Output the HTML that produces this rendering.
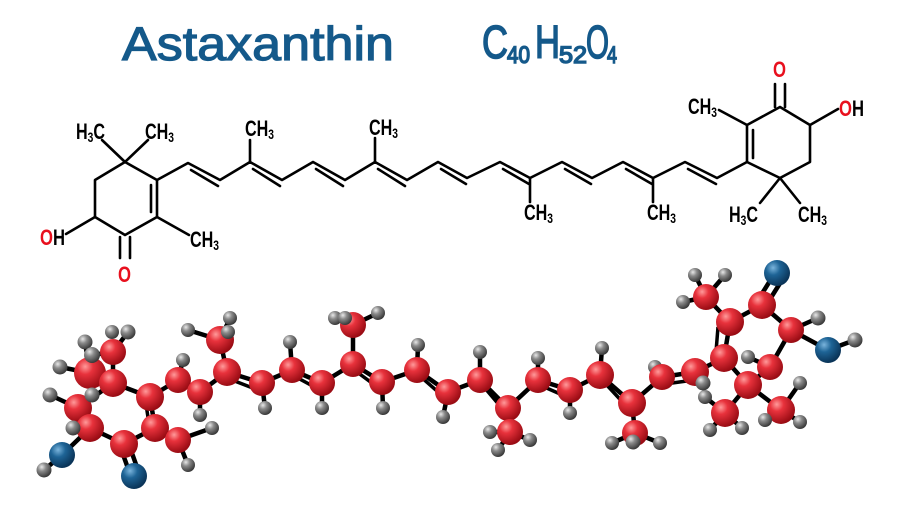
<!DOCTYPE html>
<html><head><meta charset="utf-8"><style>
html,body{margin:0;padding:0;background:#fff;}
svg{display:block;}
.t{font-family:"Liberation Sans",sans-serif;font-weight:bold;fill:#000;}
.r{fill:#e8101e;}
</style></head><body>
<svg width="900" height="510" viewBox="0 0 900 510" xmlns="http://www.w3.org/2000/svg">
<defs>
<radialGradient id="gr" cx="35%" cy="30%" r="70%"><stop offset="0" stop-color="#ff9a9a"/><stop offset="0.35" stop-color="#e8323c"/><stop offset="1" stop-color="#9a0c14"/></radialGradient>
<radialGradient id="gg" cx="35%" cy="30%" r="70%"><stop offset="0" stop-color="#e8e8e8"/><stop offset="0.4" stop-color="#8a8a8a"/><stop offset="1" stop-color="#3a3a3a"/></radialGradient>
<radialGradient id="gb" cx="35%" cy="30%" r="70%"><stop offset="0" stop-color="#7ab4dc"/><stop offset="0.4" stop-color="#1e6496"/><stop offset="1" stop-color="#0a3458"/></radialGradient>
</defs>

<!-- Title -->
<text x="122" y="60" font-family="Liberation Sans, sans-serif" font-size="47" fill="#14598a" stroke="#14598a" stroke-width="1.2" textLength="272" lengthAdjust="spacingAndGlyphs">Astaxanthin</text>
<g font-family="Liberation Sans, sans-serif" fill="#14598a" stroke="#14598a" stroke-width="1.5">
<text x="482" y="58" font-size="46" textLength="26" lengthAdjust="spacingAndGlyphs">C</text>
<text x="507" y="63" font-size="24" textLength="23" lengthAdjust="spacingAndGlyphs">40</text>
<text x="535" y="58" font-size="46" textLength="25" lengthAdjust="spacingAndGlyphs">H</text>
<text x="559" y="63" font-size="24" textLength="28" lengthAdjust="spacingAndGlyphs">52</text>
<text x="586" y="58" font-size="46" textLength="23" lengthAdjust="spacingAndGlyphs">O</text>
<text x="607" y="63" font-size="24" textLength="10" lengthAdjust="spacingAndGlyphs">4</text>
</g>

<!-- Skeletal formula -->
<g stroke="#000" stroke-width="2.6" fill="none" stroke-linecap="round" stroke-linejoin="round">
<polyline points="125,162 157,180 157,217 125,235 95,217 95,180 125,162"/>
<line x1="151" y1="185" x2="151" y2="212"/>
<line x1="125" y1="162" x2="102" y2="140"/>
<line x1="125" y1="162" x2="148" y2="140"/>
<line x1="157" y1="217" x2="189" y2="235"/>
<line x1="120" y1="237" x2="120" y2="258"/><line x1="130" y1="237" x2="130" y2="258"/>
<line x1="95" y1="217" x2="66" y2="234"/>
<polyline points="157,180 188,163 220,180 250,162 282,180 313,162 345,180 375,162 407,180 438,162 467,178 500,162 530,178 562,162 592,178 623,162 653,178 685,162 717,178 747,162"/>
<line x1="191" y1="170" x2="218" y2="186"/>
<line x1="253" y1="169" x2="280" y2="186"/>
<line x1="316" y1="169" x2="343" y2="186"/>
<line x1="378" y1="169" x2="405" y2="186"/>
<line x1="441" y1="169" x2="466" y2="184"/>
<line x1="503" y1="169" x2="529" y2="184"/>
<line x1="565" y1="169" x2="591" y2="184"/>
<line x1="626" y1="169" x2="652" y2="184"/>
<line x1="688" y1="169" x2="716" y2="184"/>
<line x1="250" y1="162" x2="250" y2="140"/>
<line x1="375" y1="162" x2="375" y2="138"/>
<line x1="530" y1="178" x2="530" y2="202"/>
<line x1="653" y1="178" x2="653" y2="202"/>
<polyline points="747,162 747,125 780,107 810,125 810,162 780,178 747,162"/>
<line x1="753" y1="130" x2="753" y2="158"/>
<line x1="775" y1="107" x2="775" y2="84"/><line x1="785" y1="107" x2="785" y2="84"/>
<line x1="810" y1="125" x2="838" y2="109"/>
<line x1="747" y1="125" x2="719" y2="110"/>
<line x1="780" y1="178" x2="760" y2="203"/>
<line x1="780" y1="178" x2="800" y2="203"/>
</g>
<g class="t" font-size="22">
<text x="76" y="139" textLength="29" lengthAdjust="spacingAndGlyphs">H<tspan font-size="14" dy="3">3</tspan><tspan dy="-3">C</tspan></text>
<text x="145" y="139" textLength="29" lengthAdjust="spacingAndGlyphs">CH<tspan font-size="14" dy="3">3</tspan></text>
<text x="245" y="136" textLength="29" lengthAdjust="spacingAndGlyphs">CH<tspan font-size="14" dy="3">3</tspan></text>
<text x="369" y="135" textLength="29" lengthAdjust="spacingAndGlyphs">CH<tspan font-size="14" dy="3">3</tspan></text>
<text x="190" y="247" textLength="29" lengthAdjust="spacingAndGlyphs">CH<tspan font-size="14" dy="3">3</tspan></text>
<text x="524" y="220" textLength="29" lengthAdjust="spacingAndGlyphs">CH<tspan font-size="14" dy="3">3</tspan></text>
<text x="647" y="220" textLength="29" lengthAdjust="spacingAndGlyphs">CH<tspan font-size="14" dy="3">3</tspan></text>
<text x="729" y="222" textLength="29" lengthAdjust="spacingAndGlyphs">H<tspan font-size="14" dy="3">3</tspan><tspan dy="-3">C</tspan></text>
<text x="798" y="222" textLength="29" lengthAdjust="spacingAndGlyphs">CH<tspan font-size="14" dy="3">3</tspan></text>
<text x="688" y="114" textLength="29" lengthAdjust="spacingAndGlyphs">CH<tspan font-size="14" dy="3">3</tspan></text>
<text x="40" y="245" textLength="25" lengthAdjust="spacingAndGlyphs"><tspan class="r">O</tspan>H</text>
<text x="839" y="116" textLength="25" lengthAdjust="spacingAndGlyphs"><tspan class="r">O</tspan>H</text>
<text x="118" y="282" class="r" textLength="13" lengthAdjust="spacingAndGlyphs">O</text>
<text x="773" y="77" class="r" textLength="13" lengthAdjust="spacingAndGlyphs">O</text>
</g>

<!-- Ball and stick -->
<g stroke="#000" stroke-width="4.5" stroke-linecap="round">
<line x1="44" y1="470" x2="62" y2="455"/>
<line x1="85" y1="342" x2="90" y2="373"/><line x1="128" y1="332" x2="113" y2="352"/>
<line x1="60" y1="367" x2="90" y2="373"/><line x1="50" y1="395" x2="78" y2="408"/>
<line x1="73" y1="428" x2="90" y2="428"/><line x1="92" y1="355" x2="113" y2="352"/>
<line x1="183" y1="360" x2="178" y2="380"/><line x1="200" y1="415" x2="200" y2="392"/>
<line x1="188" y1="465" x2="178" y2="440"/><line x1="212" y1="428" x2="178" y2="440"/>
<line x1="188" y1="330" x2="220" y2="340"/><line x1="230" y1="318" x2="220" y2="340"/>
<line x1="290" y1="342" x2="292" y2="370"/><line x1="265" y1="408" x2="262" y2="383"/>
<line x1="322" y1="408" x2="322" y2="383"/><line x1="335" y1="318" x2="353" y2="325"/>
<line x1="378" y1="313" x2="353" y2="325"/><line x1="383" y1="408" x2="382" y2="382"/>
<line x1="418" y1="345" x2="417" y2="370"/><line x1="443" y1="417" x2="448" y2="392"/>
<line x1="480" y1="352" x2="480" y2="380"/><line x1="538" y1="358" x2="538" y2="380"/>
<line x1="570" y1="413" x2="570" y2="390"/><line x1="602" y1="348" x2="600" y2="375"/>
<line x1="490" y1="432" x2="510" y2="432"/><line x1="530" y1="440" x2="510" y2="432"/><line x1="498" y1="450" x2="510" y2="432"/>
<line x1="612" y1="443" x2="635" y2="433"/><line x1="660" y1="443" x2="635" y2="433"/>
<line x1="655" y1="367" x2="662" y2="377"/>
<line x1="695" y1="275" x2="706" y2="297"/><line x1="725" y1="275" x2="706" y2="297"/><line x1="683" y1="302" x2="706" y2="297"/>
<line x1="818" y1="318" x2="791" y2="330"/><line x1="855" y1="340" x2="828" y2="350"/>
<line x1="748" y1="357" x2="770" y2="367"/>
<line x1="705" y1="397" x2="725" y2="413"/><line x1="710" y1="430" x2="725" y2="413"/><line x1="742" y1="428" x2="725" y2="413"/>
<line x1="765" y1="420" x2="781" y2="410"/><line x1="800" y1="422" x2="781" y2="410"/><line x1="800" y1="383" x2="781" y2="410"/>
<polyline fill="none" stroke-linejoin="round" points="113,383 150,397 155,428 124,444 90,428 78,408 113,383"/>
<line x1="90" y1="373" x2="113" y2="383"/><line x1="113" y1="352" x2="113" y2="383"/>
<line x1="155" y1="428" x2="178" y2="440"/>
<line x1="90" y1="428" x2="62" y2="455"/>
<line x1="120" y1="446" x2="130" y2="474"/><line x1="128" y1="442" x2="138" y2="470"/>
<polyline fill="none" stroke-linejoin="round" points="150,397 178,380 200,392 227,372 262,383 292,370 322,383 353,364 382,382 417,370 448,392 480,380 508,408 538,380 570,390 600,375 632,403 662,377 695,372 724,358"/>
<line x1="227" y1="372" x2="220" y2="340"/><line x1="353" y1="364" x2="353" y2="325"/>
<line x1="508" y1="408" x2="510" y2="432"/><line x1="632" y1="403" x2="635" y2="433"/>
<polyline fill="none" stroke-linejoin="round" points="724,358 730,322 762,305 791,330 770,367 748,385 724,358"/>
<line x1="730" y1="322" x2="706" y2="297"/>
<line x1="758" y1="300" x2="773" y2="276"/><line x1="767" y1="304" x2="782" y2="280"/>
<line x1="791" y1="330" x2="828" y2="350"/>
<line x1="748" y1="385" x2="725" y2="413"/><line x1="748" y1="385" x2="781" y2="410"/>
</g>
<g stroke="#000" stroke-width="3.5">
<line x1="146" y1="404" x2="149" y2="424"/>
<line x1="232" y1="380" x2="258" y2="390"/>
<line x1="296" y1="377" x2="320" y2="390"/>
<line x1="357" y1="372" x2="380" y2="389"/>
<line x1="421" y1="377" x2="445" y2="398"/>
<line x1="484" y1="387" x2="506" y2="413"/>
<line x1="542" y1="386" x2="567" y2="397"/>
<line x1="604" y1="382" x2="629" y2="409"/>
<line x1="665" y1="384" x2="694" y2="380"/>
<line x1="718" y1="327" x2="716" y2="352"/>
</g>
<g fill="url(#gg)">
<circle cx="44" cy="470" r="7.5"/><circle cx="85" cy="342" r="7.5"/><circle cx="128" cy="332" r="7.5"/>
<circle cx="60" cy="367" r="7.5"/><circle cx="50" cy="395" r="7.5"/>
<circle cx="183" cy="360" r="7"/><circle cx="200" cy="415" r="7"/><circle cx="188" cy="465" r="7"/><circle cx="212" cy="428" r="7"/>
<circle cx="188" cy="330" r="7"/><circle cx="230" cy="318" r="7"/>
<circle cx="290" cy="342" r="7"/><circle cx="265" cy="408" r="7"/><circle cx="322" cy="408" r="7"/>
<circle cx="335" cy="318" r="7"/><circle cx="378" cy="313" r="7"/><circle cx="383" cy="408" r="7"/>
<circle cx="418" cy="345" r="7"/><circle cx="443" cy="417" r="7"/>
<circle cx="480" cy="352" r="7"/><circle cx="538" cy="358" r="7"/><circle cx="570" cy="413" r="7"/><circle cx="602" cy="348" r="7"/>
<circle cx="490" cy="432" r="7"/><circle cx="530" cy="440" r="7"/><circle cx="498" cy="450" r="7"/>
<circle cx="612" cy="443" r="7"/><circle cx="660" cy="443" r="7"/>
<circle cx="655" cy="367" r="7"/>
<circle cx="695" cy="275" r="7"/><circle cx="725" cy="275" r="7"/><circle cx="683" cy="302" r="7"/>
<circle cx="818" cy="318" r="7.5"/><circle cx="855" cy="340" r="7.5"/>
<circle cx="748" cy="357" r="7"/>
<circle cx="705" cy="397" r="7"/><circle cx="710" cy="430" r="7"/><circle cx="742" cy="428" r="7"/>
<circle cx="800" cy="383" r="7"/>
</g>
<g fill="url(#gr)">
<circle cx="113" cy="352" r="13"/>
<circle cx="90" cy="373" r="16"/>
<circle cx="113" cy="383" r="14"/>
<circle cx="78" cy="408" r="14"/>
<circle cx="90" cy="428" r="14"/>
<circle cx="124" cy="444" r="14"/>
<circle cx="155" cy="428" r="14"/>
<circle cx="150" cy="397" r="14"/>
<circle cx="178" cy="440" r="13"/>
<circle cx="178" cy="380" r="13"/><circle cx="200" cy="392" r="13"/><circle cx="227" cy="372" r="14"/><circle cx="220" cy="340" r="14"/>
<circle cx="262" cy="383" r="13"/><circle cx="292" cy="370" r="13"/><circle cx="322" cy="383" r="13"/><circle cx="353" cy="364" r="13"/><circle cx="353" cy="325" r="13"/>
<circle cx="382" cy="382" r="13"/><circle cx="417" cy="370" r="13"/><circle cx="448" cy="392" r="13"/>
<circle cx="480" cy="380" r="13"/><circle cx="508" cy="408" r="13"/><circle cx="510" cy="432" r="13"/>
<circle cx="538" cy="380" r="13"/><circle cx="570" cy="390" r="13"/><circle cx="600" cy="375" r="14"/><circle cx="632" cy="403" r="14"/><circle cx="635" cy="433" r="13"/>
<circle cx="662" cy="377" r="13"/><circle cx="695" cy="372" r="14"/>
<circle cx="706" cy="297" r="13"/>
<circle cx="724" cy="358" r="14"/><circle cx="730" cy="322" r="14"/><circle cx="762" cy="305" r="14"/><circle cx="791" cy="330" r="13"/>
<circle cx="770" cy="367" r="13"/><circle cx="748" cy="385" r="14"/><circle cx="725" cy="413" r="14"/><circle cx="781" cy="410" r="14"/>
</g>
<g fill="url(#gg)">
<circle cx="73" cy="428" r="7.5"/><circle cx="92" cy="355" r="8"/><circle cx="92" cy="395" r="7.5"/><circle cx="112" cy="332" r="7"/>
<circle cx="228" cy="332" r="7"/><circle cx="345" cy="318" r="7"/>
<circle cx="703" cy="383" r="7.5"/><circle cx="765" cy="420" r="7"/><circle cx="800" cy="422" r="7"/>
<circle cx="633" cy="442" r="7.5"/>
</g>
<g fill="url(#gb)">
<circle cx="62" cy="455" r="13"/><circle cx="134" cy="476" r="13"/>
<circle cx="777" cy="273" r="13"/><circle cx="828" cy="350" r="13"/>
</g>
</svg>
</body></html>
